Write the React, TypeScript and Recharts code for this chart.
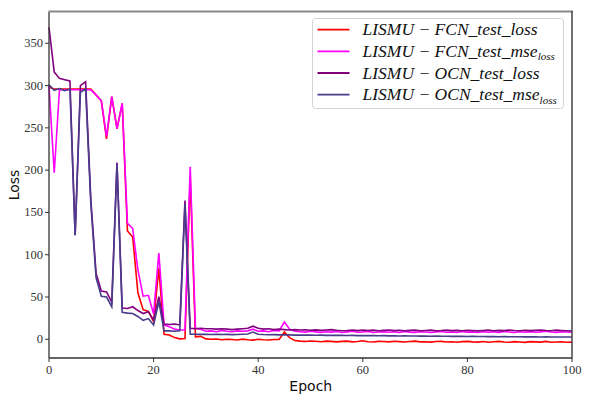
import { LineChart, Line, XAxis, YAxis, Legend, Label } from 'recharts';

// epochs 0..100
const EPOCHS = Array.from({ length: 101 }, (_, i) => i);

const FCN_TEST_LOSS = [
  298, 296, 296, 296, 296, 296, 296, 296, 296, 289,
  282, 237, 287, 249, 279, 128, 121, 55, 35, 33,
  21, 84, 6, 5, 2, 0.5, 1, 192, 3, 3.5,
  0.5, 0, 0.3, -0.5, 0, -0.3, -0.8, 0.2, -0.5, -1,
  0, -0.5, -0.8, -0.3, -0.2, 8.5, 2, -1.5, -2.2, -2.5,
  -2, -2.3, -2.8, -2.2, -2.5, -3, -2.5, -2.2, -3, -2.6,
  -1.8, -2.8, -3.2, -2.4, -2.6, -3, -2.3, -2.7, -3.2, -2.5,
  -2.2, -3, -2.8, -3.3, -2.6, -2.4, -3.1, -2.8, -3.4, -2.7,
  -2.5, -3, -3.3, -2.6, -3.5, -2.9, -2.4, -3.1, -3.4, -2.8,
  -3.2, -3.6, -2.7, -3, -3.3, -2.5, -3.4, -3.1, -2.9, -3.5,
  -3.3,
];

const FCN_TEST_MSE = [
  300, 197, 295, 295, 295, 295, 295, 295, 295, 289,
  282, 240, 287, 249, 279, 137, 131, 82, 51, 52,
  30, 102, 17, 15, 12, 11, 11, 204, 13, 12,
  9.5, 10, 9, 10.5, 9.5, 9, 10, 9.5, 10, 12,
  9.5, 10, 9, 10.5, 10, 20.5, 12, 9.5, 9, 8.5,
  9.5, 8.8, 8.2, 9, 8.5, 9.2, 8, 8.8, 9.5, 8.3,
  8.6, 9.3, 8, 8.7, 9.1, 8.4, 8.9, 8.1, 9.4, 8.5,
  8.2, 9, 8.6, 8, 8.8, 9.3, 8.3, 8.7, 8.1, 9.2,
  8.5, 8.8, 8, 9, 8.4, 8.9, 8.2, 9.4, 8.6, 8.1,
  8.9, 8.4, 9.1, 8.3, 8.8, 9.5, 8.7, 8.2, 9, 8.6,
  8.4,
];

const OCN_TEST_LOSS = [
  369, 316, 308.5, 307, 305.5, 123, 300, 304.5, 165, 78,
  57, 56, 44, 209, 37, 36.5, 38.5, 34, 30.5, 32.5,
  23, 50.5, 18, 17.5, 18, 17, 164, 13, 12.5, 13,
  12.5, 12.5, 12, 12.5, 12, 11.5, 12, 12.5, 13, 15.5,
  13, 12, 12.5, 11.5, 12, 11.5, 11, 11.5, 11, 11.3,
  10.8, 11.2, 10.6, 11, 11.4, 10.7, 10.2, 10.5, 11, 10.3,
  10.8, 10.4, 10.9, 10.2, 10.6, 11, 10.3, 10.7, 10.1, 10.6,
  10.9, 10.2, 10.5, 10.8, 10.1, 10.4, 10.9, 10.3, 10.6, 10.2,
  10.7, 10.4, 10, 10.5, 10.8, 10.2, 10.6, 10.3, 10.9, 10.4,
  10.1, 10.7, 10.3, 10.6, 11, 10.4, 10.2, 10.8, 10.5, 10.1,
  9.8,
];

const OCN_TEST_MSE = [
  301, 294.5, 296.5, 294, 296, 123, 292, 296, 160, 73,
  51, 50, 38.5, 207, 32, 31, 30.5, 27, 22.5, 24.5,
  17, 44.5, 10, 10, 9.5, 10, 160, 6, 6, 5.8,
  6, 5.7, 5.9, 5.6, 5.8, 5.5, 5.7, 6, 6.2, 8.5,
  6, 5.6, 5.4, 5.5, 5.3, 5.4, 5.2, 5, 5.1, 4.9,
  5, 4.8, 4.9, 4.7, 4.8, 4.6, 4.7, 4.5, 4.6, 4.4,
  4.5, 4.3, 4.4, 4.2, 4.3, 4.1, 4.2, 4, 4.1, 3.9,
  4, 3.8, 3.9, 3.7, 3.8, 3.6, 3.7, 3.5, 3.6, 3.5,
  3.4, 3.5, 3.3, 3.4, 3.2, 3.3, 3.1, 3.2, 3.1, 3,
  3.1, 2.9, 3, 2.9, 2.8, 2.9, 2.8, 2.7, 2.8, 2.7,
  2.7,
];

const X_TICKS = [0, 20, 40, 60, 80, 100];
const Y_TICKS = [0, 50, 100, 150, 200, 250, 300, 350];
const Y_MIN = -22.1;
const Y_MAX = 387;

const SERIES = [
  { key: 'fcnLoss', head: 'LISMU \u2212 FCN_test_loss', sub: '', color: '#ff0000' },
  { key: 'fcnMse', head: 'LISMU \u2212 FCN_test_mse', sub: 'loss', color: '#ff00ff' },
  { key: 'ocnLoss', head: 'LISMU \u2212 OCN_test_loss', sub: '', color: '#800080' },
  { key: 'ocnMse', head: 'LISMU \u2212 OCN_test_mse', sub: 'loss', color: '#483d8b' },
];

const data = EPOCHS.map((epoch, i) => ({
  epoch,
  fcnLoss: FCN_TEST_LOSS[i],
  fcnMse: FCN_TEST_MSE[i],
  ocnLoss: OCN_TEST_LOSS[i],
  ocnMse: OCN_TEST_MSE[i],
}));

const labelStyle = { fill: '#111', fontSize: 14, fontFamily: 'DejaVu Sans' };

const XTick = (p: any) => (
  <text x={p.x} y={p.y + 10} textAnchor="middle" fill="#333" fontSize={12.5} fontFamily="Liberation Serif">
    {p.payload.value}
  </text>
);
const YTick = (p: any) => (
  <text x={p.x} y={p.y + 4} textAnchor="end" fill="#333" fontSize={12.5} fontFamily="Liberation Serif">
    {p.payload.value}
  </text>
);

function LegendBox() {
  const rows = [11.7, 33.4, 55, 76.7];
  return (
    <svg width={253} height={92} style={{ display: 'block' }}>
      <rect x={0.5} y={0.5} width={251} height={90} rx={3} fill="rgba(255,255,255,0.85)" stroke="#d3d3d3" />
      {SERIES.map((s, i) => (
        <g key={s.key}>
          <line x1={5.5} x2={37.5} y1={rows[i]} y2={rows[i]} stroke={s.color} strokeWidth={1.8} />
          <text x={50.5} y={rows[i] + 5.5} fontSize={17.5} fontStyle="italic" fontFamily="Liberation Serif" fill="#111">
            {s.head}
            {s.sub && <tspan fontSize={11} dy={3.5}>{s.sub}</tspan>}
          </text>
        </g>
      ))}
    </svg>
  );
}

export default function App() {
  return (
    <div style={{ position: 'absolute', left: 0, top: 0, width: 593, height: 399, background: '#fff', fontFamily: 'Liberation Serif' }}>
      <LineChart width={593} height={399} data={data} margin={{ top: 12, right: 21, bottom: 0, left: 0 }}>
        <XAxis
          dataKey="epoch" type="number" domain={[0, 100]} ticks={X_TICKS} height={41}
          tickSize={4} tickMargin={2} tick={XTick} stroke="#333"
          axisLine={{ stroke: '#333', strokeWidth: 1.3 }} tickLine={{ stroke: '#333' }}
        >
          <Label content={() => <text x={310.8} y={391} textAnchor="middle" {...labelStyle}>Epoch</text>} />
        </XAxis>
        <YAxis
          type="number" domain={[Y_MIN, Y_MAX]} ticks={Y_TICKS} allowDataOverflow width={49}
          tickSize={4} tickMargin={2} tick={YTick} stroke="#333"
          axisLine={{ stroke: '#333', strokeWidth: 1.3 }} tickLine={{ stroke: '#333' }}
        >
          <Label content={() => <text x={18.5} y={185} textAnchor="middle" transform="rotate(-90 18.5 185)" {...labelStyle}>Loss</text>} />
        </YAxis>
        <Legend
          layout="horizontal" verticalAlign="middle" align="center"
          content={() => <LegendBox />}
          wrapperStyle={{ position: 'absolute', left: 312, top: 18, width: 253, height: 92 }}
        />
        {SERIES.map(s => (
          <Line key={s.key} dataKey={s.key} stroke={s.color} strokeWidth={1.6} dot={false} type="linear" isAnimationActive={false} />
        ))}
      </LineChart>
      {/* top and right frame of the plot area */}
      <svg width={593} height={399} style={{ position: 'absolute', left: 0, top: 0, pointerEvents: 'none' }}>
        <line x1={48.5} x2={573} y1={11.5} y2={11.5} stroke="#888" strokeWidth={2} />
        <line x1={572} x2={572} y1={11} y2={358.5} stroke="#444" strokeWidth={1.5} />
      </svg>
    </div>
  );
}
